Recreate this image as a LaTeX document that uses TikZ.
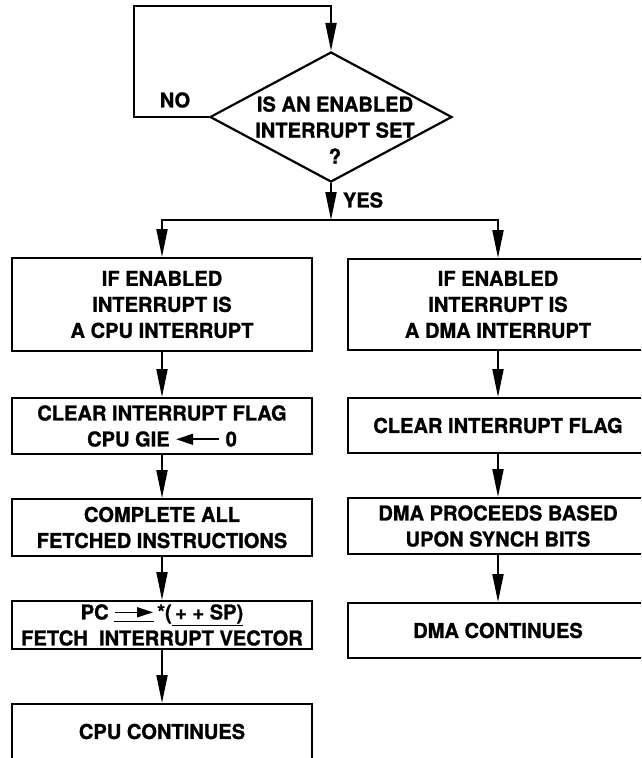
\documentclass[tikz,border=0pt]{standalone}
\usepackage{fontspec}
\setmainfont{TeX Gyre Heros}[BoldFeatures={FakeStretch=0.98,FakeBold=1}]
\usetikzlibrary{shapes.geometric,arrows.meta}
\tikzset{
  box/.style={draw, line width=2pt, minimum width=300pt, inner sep=0pt, align=center,
    font=\bfseries\fontsize{20.5}{26}\selectfont, anchor=north},
  arr/.style={line width=2pt, -{Triangle[length=28pt,width=11pt]}},
  lbl/.style={font=\bfseries\fontsize{20.5}{24}\selectfont, inner sep=0pt},
  dec/.style={draw, diamond, line width=2.2pt, minimum width=242pt, minimum height=130pt, inner sep=0pt}
}
\newcommand{\lftarrow}{\tikz[baseline=-0.35em]\draw[line width=1.8pt,{Triangle[length=17pt,width=11pt]}-] (0pt,0pt) -- (43pt,0pt);}
\newcommand{\rgtarrow}{\tikz[baseline=-0.35em]\draw[line width=1.6pt,-{Triangle[length=16pt,width=10pt]}] (0pt,0pt) -- (38pt,0pt);}
\begin{document}
\begin{tikzpicture}[x=1pt,y=-1pt]
\useasboundingbox (0,0) rectangle (641,758);
\clip (0,0) rectangle (641,758);
\fill[white] (0,0) rectangle (641,758);
% decision
\node[dec] (d) at (331,117) {};
\node[lbl, align=center, font=\bfseries\fontsize{20.5}{26}\selectfont] (dt) at (335,130) {IS AN ENABLED\\INTERRUPT SET\\?};
\node[lbl] (no) at (175,100) {NO};
\node[lbl] (yes) at (363,200) {YES};
\coordinate (lc) at (134,6);
\coordinate (jn) at (331,220);
% left column
\node[box, minimum height=93pt] (l1) at (162,257) {IF ENABLED\\INTERRUPT IS\\A CPU INTERRUPT};
\node[box, minimum height=56pt] (l2) at (162,397) {CLEAR INTERRUPT FLAG\\CPU GIE \lftarrow\ 0};
\node[box, minimum height=57pt] (l3) at (162,498) {COMPLETE ALL\\FETCHED INSTRUCTIONS};
\node[box, minimum height=48pt] (l4) at (162,600) {PC \underline{\rgtarrow}\,*(\underline{\,+ + SP)}\\FETCH\ \ INTERRUPT VECTOR};
\node[box, minimum height=55pt] (l5) at (162,703) {CPU CONTINUES};
% right column
\node[box, minimum height=91pt] (r1) at (498,258) {IF ENABLED\\INTERRUPT IS\\A DMA INTERRUPT};
\node[box, minimum height=55pt] (r2) at (498,397) {CLEAR INTERRUPT FLAG};
\node[box, minimum height=56pt] (r3) at (498,497) {DMA PROCEEDS BASED\\UPON SYNCH BITS};
\node[box, minimum height=55pt] (r4) at (498,602) {DMA CONTINUES};
% connectors
\draw[arr] (d.west) -| (lc) -| (d.north);
\draw[arr] (d.south) -- (jn);
\draw[arr] (jn) -| (l1.north);
\draw[arr] (jn) -| (r1.north);
\draw[arr] (l1) -- (l2);
\draw[arr] (l2) -- (l3);
\draw[arr] (l3) -- (l4);
\draw[arr] (l4) -- (l5);
\draw[arr] (r1) -- (r2);
\draw[arr] (r2) -- (r3);
\draw[arr] (r3) -- (r4);
\end{tikzpicture}
\end{document}
